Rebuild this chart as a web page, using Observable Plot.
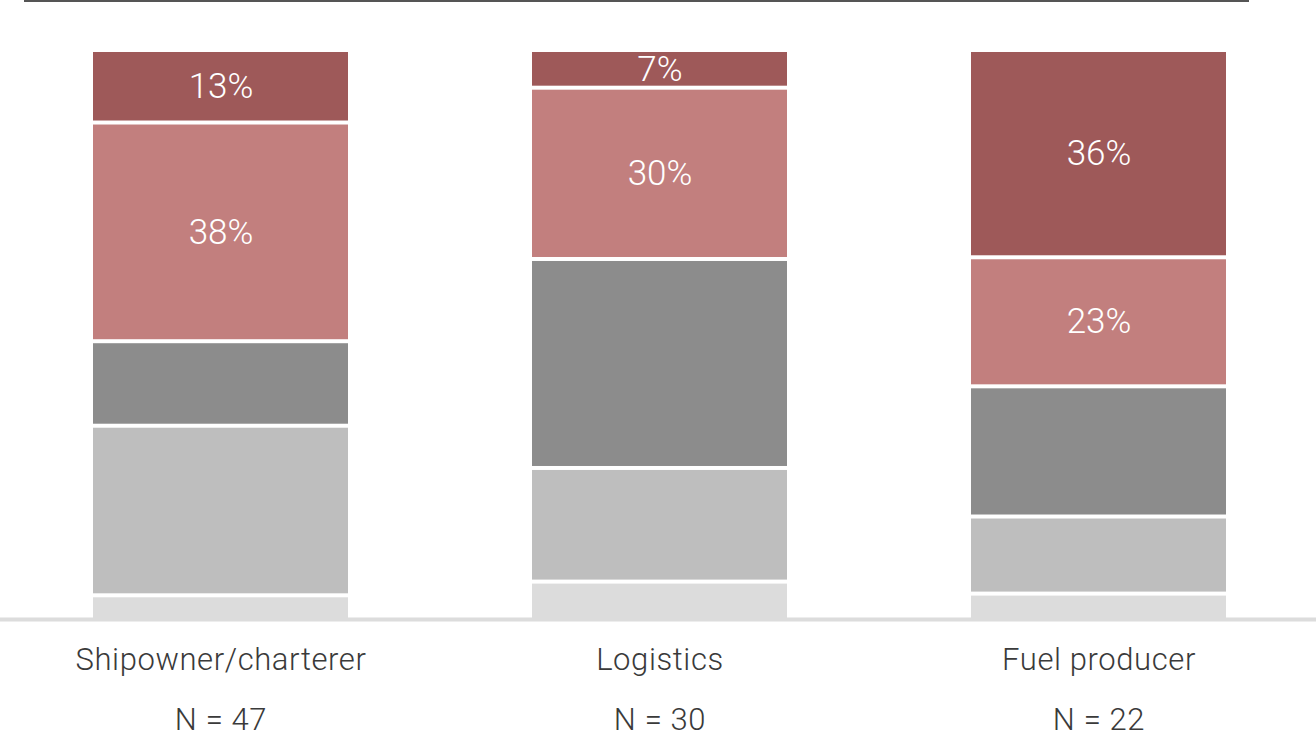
<!DOCTYPE html>
<html>
<head>
<meta charset="utf-8">
<script src="https://cdn.jsdelivr.net/npm/d3@7"></script>
<script src="https://cdn.jsdelivr.net/npm/@observablehq/plot@0.6"></script>
<style>
  html, body { margin: 0; padding: 0; background: #fff; }
  #wrap { position: relative; width: 1316px; height: 738px; }
  #toprule { position: absolute; top: 0; left: 24px; width: 1225px; border-top: 2px solid #555; }
  svg { font-family: "Roboto", "Inter", sans-serif; }
</style>
</head>
<body>
<div id="wrap"><div id="toprule"></div></div>
<script>
// Categories and sample sizes
const categories = ["Shipowner/charterer", "Logistics", "Fuel producer"];
const respondents = [47, 30, 22];

// Series (bottom to top of each stack)
const seriesNames = ["Level 1", "Level 2", "Level 3", "Level 4", "Level 5"];
const seriesColors = ["#dcdcdc", "#bebebe", "#8c8c8c", "#c27f7e", "#9e5959"];
const labelledSeries = ["Level 4", "Level 5"];

// Shares (%) per series, one value per category
const level1 = [4.5, 6.9, 4.8];
const level2 = [29.7, 19.9, 13.5];
const level3 = [14.8, 36.6, 22.8];
const level4 = [38.3, 30.0, 22.6];
const level5 = [12.7, 6.6, 36.3];

const seriesValues = [level1, level2, level3, level4, level5];
const data = [];
seriesNames.forEach((s, si) => {
  categories.forEach((c, ci) => {
    data.push({category: c, series: s, value: seriesValues[si][ci]});
  });
});

const nByCat = new Map(categories.map((c, i) => [c, respondents[i]]));

const chart = Plot.plot({
  width: 1316,
  height: 738,
  marginTop: 48,
  marginBottom: 119,
  marginLeft: 0,
  marginRight: 0,
  style: {fontFamily: "Roboto, Inter, sans-serif", background: "transparent"},
  x: {domain: categories, range: [0, 1318.5], paddingInner: 0.42, paddingOuter: 0.21, label: null},
  y: {domain: [0, 100], axis: null},
  color: {domain: seriesNames, range: seriesColors},
  marks: [
    Plot.barY(data, {
      x: "category",
      y: "value",
      fill: "series",
      order: seriesNames,
      insetTop: 4
    }),
    Plot.text(data, Plot.stackY({
      x: "category",
      y: "value",
      z: "series",
      order: seriesNames,
      text: d => labelledSeries.includes(d.series) ? Math.round(d.value) + "%" : null,
      fill: "white",
      fontSize: 35,
      fontWeight: 300,
      dy: 2,
      style: "letter-spacing: 2px"
    })),
    Plot.ruleY([0], {stroke: "#dcdcdc", strokeWidth: 4}),
    Plot.axisX({
      tickSize: 0,
      tickPadding: 8,
      fontSize: 31,
      fontWeight: 300,
      lineHeight: 1.935,
      fill: "#3a3a3a",
      label: null,
      tickFormat: c => `${c}\nN = ${nByCat.get(c)}`
    })
  ]
});
chart.querySelectorAll('g[aria-label="x-axis tick label"] text').forEach(t => t.style.letterSpacing = "0.6px");
document.getElementById("wrap").appendChild(chart);
</script>
</body>
</html>
